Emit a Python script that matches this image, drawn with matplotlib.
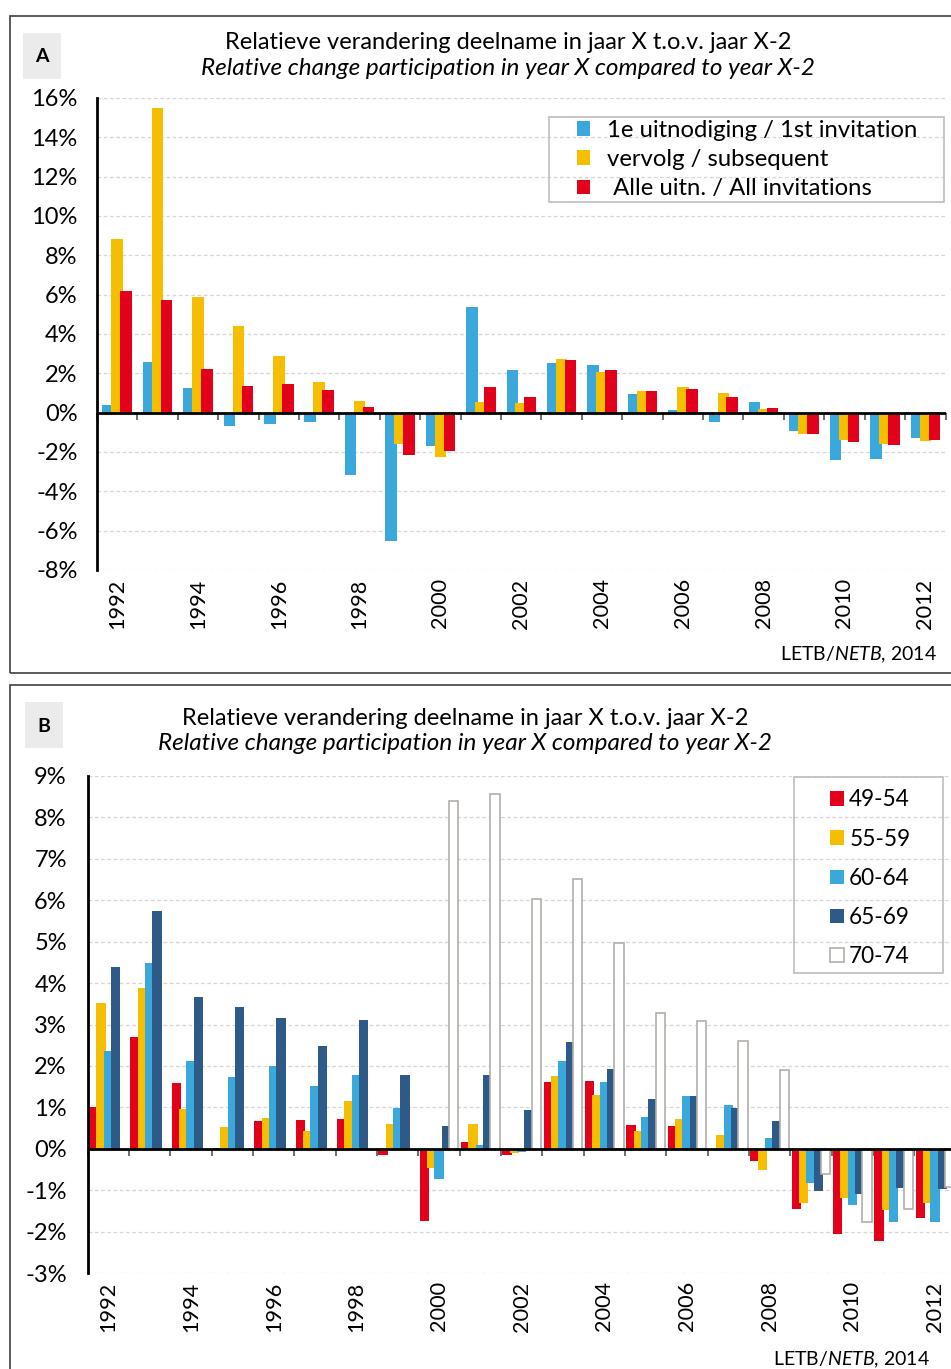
import numpy as np
import matplotlib
matplotlib.use("Agg")
import matplotlib.pyplot as plt
from matplotlib.patches import Patch, Rectangle
from matplotlib.ticker import FuncFormatter

plt.rcParams['font.family'] = ['Lato', 'DejaVu Sans']
plt.rcParams['mathtext.fontset'] = 'custom'
plt.rcParams['mathtext.rm'] = 'Lato'
plt.rcParams['mathtext.it'] = 'Lato:italic'

years = list(range(1992, 2013))

# panel A: relative change (%) per invitation type
first_inv = [0.41, 2.60, 1.26, -0.68, -0.58, -0.48, -3.15, -6.52, -1.69, 5.35, 2.19,
             2.51, 2.41, 0.97, 0.15, -0.48, 0.56, -0.94, -2.41, -2.36, -1.27]
subsequent = [8.85, 15.49, 5.89, 4.39, 2.88, 1.58, 0.61, -1.61, -2.24, 0.55, 0.51,
              2.72, 2.09, 1.08, 1.33, 0.99, 0.17, -1.11, -1.38, -1.59, -1.44]
all_inv = [6.20, 5.74, 2.23, 1.38, 1.45, 1.14, 0.31, -2.15, -1.97, 1.33, 0.82,
           2.70, 2.15, 1.08, 1.20, 0.82, 0.22, -1.08, -1.50, -1.66, -1.38]
labels_a = ["1e uitnodiging / 1st invitation", "vervolg / subsequent", " Alle uitn. / All invitations"]

# panel B: relative change (%) per age group
age_49_54 = [1.00, 2.69, 1.58, 0.03, 0.67, 0.69, 0.73, -0.14, -1.75, 0.17, -0.15,
             1.61, 1.63, 0.57, 0.54, 0.00, -0.30, -1.45, -2.06, -2.23, -1.68]
age_55_59 = [3.52, 3.89, 0.97, 0.52, 0.75, 0.43, 1.15, 0.59, -0.47, 0.60, -0.10,
             1.75, 1.29, 0.44, 0.72, 0.32, -0.52, -1.31, -1.20, -1.48, -1.31]
age_60_64 = [2.35, 4.48, 2.11, 1.73, 1.99, 1.52, 1.77, 0.99, -0.73, 0.08, -0.07,
             2.13, 1.60, 0.76, 1.27, 1.05, 0.26, -0.82, -1.35, -1.77, -1.77]
age_65_69 = [4.40, 5.75, 3.67, 3.42, 3.15, 2.48, 3.10, 1.78, 0.56, 1.77, 0.93,
             2.57, 1.93, 1.19, 1.28, 0.99, 0.67, -1.03, -1.09, -0.95, -0.97]
age_70_74 = [np.nan] * 8 + [8.39, 8.56, 6.02, 6.52, 4.96, 3.28, 3.09, 2.60, 1.90,
                            -0.62, -1.77, -1.45, -0.93]
labels_b = ["49-54", "55-59", "60-64", "65-69", "70-74"]

title_nl = "Relatieve verandering deelname in jaar X t.o.v. jaar X-2"
title_en = "Relative change participation in year X compared to year X-2"
source = "LETB/$\\mathit{NETB}$, 2014"

BLUE = "#3aa8db"
YELLOW = "#f5be00"
RED = "#e2001a"
DARK = "#2e5a88"
EDGE_GREY = "#b3afaa"

W, H = 951, 1369
fig = plt.figure(figsize=(W / 100, H / 100), dpi=100)


def fx(px):
    return px / W


def fy(py):
    return 1 - py / H


def style_axes(ax, ymin, ymax, step, ypad):
    x = np.arange(len(years))
    ax.set_xlim(-0.5, len(years) - 0.5)
    ax.set_ylim(ymin, ymax)
    ax.set_yticks(np.arange(ymin, ymax + step / 2, step))
    ax.yaxis.set_major_formatter(FuncFormatter(lambda v, p: f"{int(round(v))}%"))
    ax.set_xticks(x[::2])
    ax.set_xticklabels([str(y) for y in years[::2]], rotation=90)
    ax.tick_params(axis='x', length=0, pad=6, labelsize=15.6)
    ax.tick_params(axis='y', length=0, pad=ypad, labelsize=17)
    for s in ['top', 'right', 'bottom']:
        ax.spines[s].set_visible(False)
    ax.spines['left'].set_linewidth(2)
    ax.spines['left'].set_color('black')
    ax.yaxis.grid(True, color='#d6d6d6', linestyle=(0, (3, 2)), linewidth=0.9)
    ax.set_axisbelow(True)
    ax.axhline(0, color='black', linewidth=2, zorder=4)
    sec = ax.secondary_xaxis((0 - ymin) / (ymax - ymin))
    sec.set_xticks(np.arange(-0.5, len(years), 1))
    sec.tick_params(axis='x', direction='out', length=5, width=1.2, color='#555555',
                    labelbottom=False, labeltop=False)
    sec.spines['bottom'].set_visible(False)
    sec.spines['top'].set_visible(False)


def panel_frame(left, top, bottom, letter, lx, ly):
    fig.patches.append(Rectangle((fx(left), fy(bottom)), 1.2, fy(top) - fy(bottom),
                                 transform=fig.transFigure, fill=False,
                                 edgecolor='#404040', linewidth=1.2))
    fig.patches.append(Rectangle((fx(lx), fy(ly + 46)), fx(38), 46 / H,
                                 transform=fig.transFigure, facecolor='#ebebeb',
                                 edgecolor='none'))
    fig.text(fx(lx + 19), fy(ly + 24), letter, ha='center', va='center',
             fontsize=14, fontweight='bold')


# ---------------- panel A ----------------
panel_frame(10, 16, 673, "A", 23, 33)
fig.text(fx(508), fy(49), title_nl, ha='center', va='baseline', fontsize=17)
fig.text(fx(508), fy(75), title_en, ha='center', va='baseline', fontsize=17.5,
         style='italic')

axA = fig.add_axes([fx(97), fy(570), fx(945.5 - 97), 472 / H])
x = np.arange(len(years))
wa, da = 0.285, 0.222
axA.bar(x - da, first_inv, wa, color=BLUE, zorder=2)
axA.bar(x, subsequent, wa, color=YELLOW, zorder=2)
axA.bar(x + da, all_inv, wa, color=RED, zorder=2)
style_axes(axA, -8, 16, 2, 14)

handles_a = [Patch(facecolor=c, edgecolor='none') for c in (BLUE, YELLOW, RED)]
axA.legend(handles_a, labels_a, loc='upper left', bbox_to_anchor=(fx(577), fy(120)),
           bbox_transform=fig.transFigure, frameon=False, borderpad=0,
           borderaxespad=0, handlelength=0.55, handleheight=0.55, handletextpad=0.7,
           labelspacing=0.34, fontsize=17.2)
fig.patches.append(Rectangle((fx(549), fy(202)), fx(944 - 549), (202 - 116.7) / H,
                             transform=fig.transFigure, fill=False,
                             edgecolor='#bdbdbd', linewidth=1.2))
fig.text(fx(937), fy(660), source, ha='right', va='baseline', fontsize=14)

# ---------------- panel B ----------------
panel_frame(10, 685, 1400, "B", 25, 702)
fig.text(fx(465), fy(725), title_nl, ha='center', va='baseline', fontsize=17)
fig.text(fx(465), fy(750), title_en, ha='center', va='baseline', fontsize=17.5,
         style='italic')

axB = fig.add_axes([fx(87.7), fy(1273), fx(868), 497 / H])
wb, db = 0.225, 0.177
series_b = [age_49_54, age_55_59, age_60_64, age_65_69, age_70_74]
colors_b = [RED, YELLOW, BLUE, DARK, 'white']
for i, (vals, col) in enumerate(zip(series_b, colors_b)):
    if col == 'white':
        axB.bar(x + (i - 2) * db, vals, wb, facecolor='white', edgecolor=EDGE_GREY,
                linewidth=1.2, zorder=2)
    else:
        axB.bar(x + (i - 2) * db, vals, wb, color=col, zorder=2)
style_axes(axB, -3, 9, 1, 15)

handles_b = [Patch(facecolor=c, edgecolor='none') for c in colors_b[:4]]
handles_b.append(Patch(facecolor='white', edgecolor=EDGE_GREY, linewidth=1.2))
axB.legend(handles_b, labels_b, loc='upper left', bbox_to_anchor=(fx(830), fy(789.5)),
           bbox_transform=fig.transFigure, frameon=False, borderpad=0,
           borderaxespad=0, handlelength=0.6, handleheight=0.6, handletextpad=0.25,
           labelspacing=0.8, fontsize=16.3)
fig.patches.append(Rectangle((fx(794), fy(972.7)), fx(943.3 - 794), (972.7 - 777.3) / H,
                             transform=fig.transFigure, fill=False,
                             edgecolor='#bdbdbd', linewidth=1.2))
fig.text(fx(930), fy(1365), source, ha='right', va='baseline', fontsize=14)

fig.savefig('out.png', dpi=100)
